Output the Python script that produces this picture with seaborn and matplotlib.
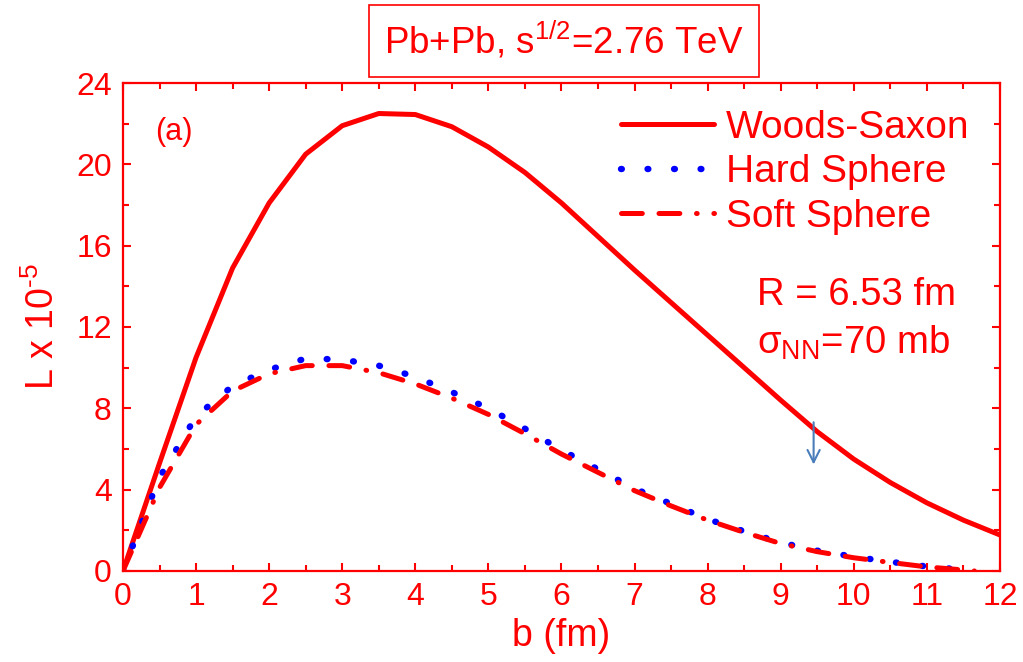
import matplotlib
matplotlib.use("Agg")
import matplotlib.pyplot as plt
import seaborn as sns
import pandas as pd
from matplotlib.ticker import MultipleLocator

# ---------------- data ----------------
b_ws = [0, 0.5, 1, 1.5, 2, 2.5, 3, 3.5, 4, 4.5, 5, 5.5, 6, 6.5, 7, 7.5, 8,
        8.5, 9, 9.5, 10, 10.5, 11, 11.5, 12]
woods_saxon = [0, 5.3, 10.5, 14.9, 18.1, 20.5, 21.9, 22.5, 22.45, 21.85, 20.85,
               19.6, 18.1, 16.45, 14.8, 13.2, 11.6, 10.0, 8.4, 6.85, 5.5,
               4.35, 3.35, 2.5, 1.77]

b_sph = [0, 0.5, 1, 1.5, 2, 2.5, 3, 3.5, 4, 4.5, 5, 5.5, 6, 6.5, 7, 7.5, 8,
         8.5, 9, 9.5, 10, 10.5, 11, 11.5, 11.65]
hard_sphere = [0, 4.6, 7.6, 9.1, 9.9, 10.45, 10.4, 10.1, 9.55, 8.8, 8.0, 7.0,
               5.95, 5.0, 4.05, 3.3, 2.55, 1.95, 1.4, 1.0, 0.7, 0.45, 0.22,
               0.06, 0.0]
soft_sphere = [0, 4.1, 7.2, 8.85, 9.7, 10.1, 10.1, 9.75, 9.2, 8.5, 7.7, 6.75,
               5.75, 4.85, 3.95, 3.2, 2.5, 1.9, 1.35, 0.95, 0.65, 0.42, 0.2,
               0.05, 0.0]

labels = ["Woods-Saxon", "Hard Sphere", "Soft Sphere"]
title_txt = "Pb+Pb, s$^{1/2}$=2.76 TeV"
x_ticks = list(range(0, 13))
y_ticks = [0, 4, 8, 12, 16, 20, 24]

# ---------------- style ----------------
sns.set_theme(style="ticks")
plt.rcParams["font.family"] = ["Liberation Sans", "DejaVu Sans"]
plt.rcParams["mathtext.fontset"] = "custom"
plt.rcParams["mathtext.rm"] = "Liberation Sans"
plt.rcParams["mathtext.it"] = "Liberation Sans:italic"
plt.rcParams["mathtext.default"] = "rm"
plt.rcParams["lines.scale_dashes"] = False
plt.rcParams["lines.dash_capstyle"] = "round"

RED = "#ff0000"
BLUE = "#0000ff"

fig = plt.figure(figsize=(10.23, 6.62), dpi=100)
ax = fig.add_axes([0.1202, 0.1375, 0.8573, 0.7371])

df_ws = pd.DataFrame({"b": b_ws, "L": woods_saxon})
df_sph = pd.DataFrame({"b": b_sph, "hs": hard_sphere, "ss": soft_sphere})

sns.lineplot(data=df_ws, x="b", y="L", ax=ax, color=RED, lw=3.6,
             label=labels[0], sort=False)
sns.lineplot(data=df_sph, x="b", y="hs", ax=ax, color=BLUE, lw=4.6,
             linestyle=(0, (0.6, 18.5)), label=labels[1], sort=False)
sns.lineplot(data=df_sph, x="b", y="ss", ax=ax, color=RED, lw=3.6,
             linestyle=(0, (15, 12, 15, 12, 0.5, 12)), label=labels[2],
             sort=False)
for ln in ax.get_lines():
    ln.set_dash_capstyle("round")
    ln.set_solid_capstyle("round")

ax.set_xlim(0, 12)
ax.set_ylim(0, 24)
ax.set_xticks(x_ticks)
ax.set_yticks(y_ticks)
ax.xaxis.set_minor_locator(MultipleLocator(0.5))
ax.yaxis.set_minor_locator(MultipleLocator(2))
ax.tick_params(which="both", direction="in", top=True, right=True,
               color=RED, width=1.5, labelcolor=RED)
ax.tick_params(which="major", length=6, labelsize=23, pad=8)
ax.tick_params(which="minor", length=4)
for s in ax.spines.values():
    s.set_color(RED)
    s.set_linewidth(1.6)

ax.set_xlabel("b (fm)", fontsize=27, color=RED, labelpad=4)
ax.set_ylabel("L x 10$^{\\text{-5}}$", fontsize=27, color=RED, labelpad=10)

leg = ax.legend(loc="upper left", bbox_to_anchor=(0.568, 0.945), frameon=False,
                fontsize=28, handlelength=2.4, handletextpad=0.3,
                labelspacing=0.22, borderpad=0, borderaxespad=0)
for t in leg.get_texts():
    t.set_color(RED)
for h in leg.get_lines():
    h.set_dash_capstyle("round")

ax.text(0.037, 0.9, "(a)", transform=ax.transAxes, fontsize=22,
        color=RED, va="center", ha="left")
ax.text(0.7225, 0.566, "R = 6.53 fm", transform=ax.transAxes, fontsize=27.5,
        color=RED, va="center", ha="left")
ax.text(0.7225, 0.468, "σ$_{\\mathrm{NN}}$=70 mb", transform=ax.transAxes,
        fontsize=27.5, color=RED, va="center", ha="left")

ax.annotate("", xy=(9.45, 5.1), xytext=(9.45, 7.45),
            arrowprops=dict(arrowstyle="->", color="#4a7ebb", lw=1.5,
                            mutation_scale=22))

fig.text(0.5515, 0.938, title_txt, fontsize=26.5, color=RED, ha="center",
         va="center",
         bbox=dict(boxstyle="square,pad=0.42", facecolor="white",
                   edgecolor=RED, linewidth=1.2))

fig.savefig("out.png", dpi=100)
